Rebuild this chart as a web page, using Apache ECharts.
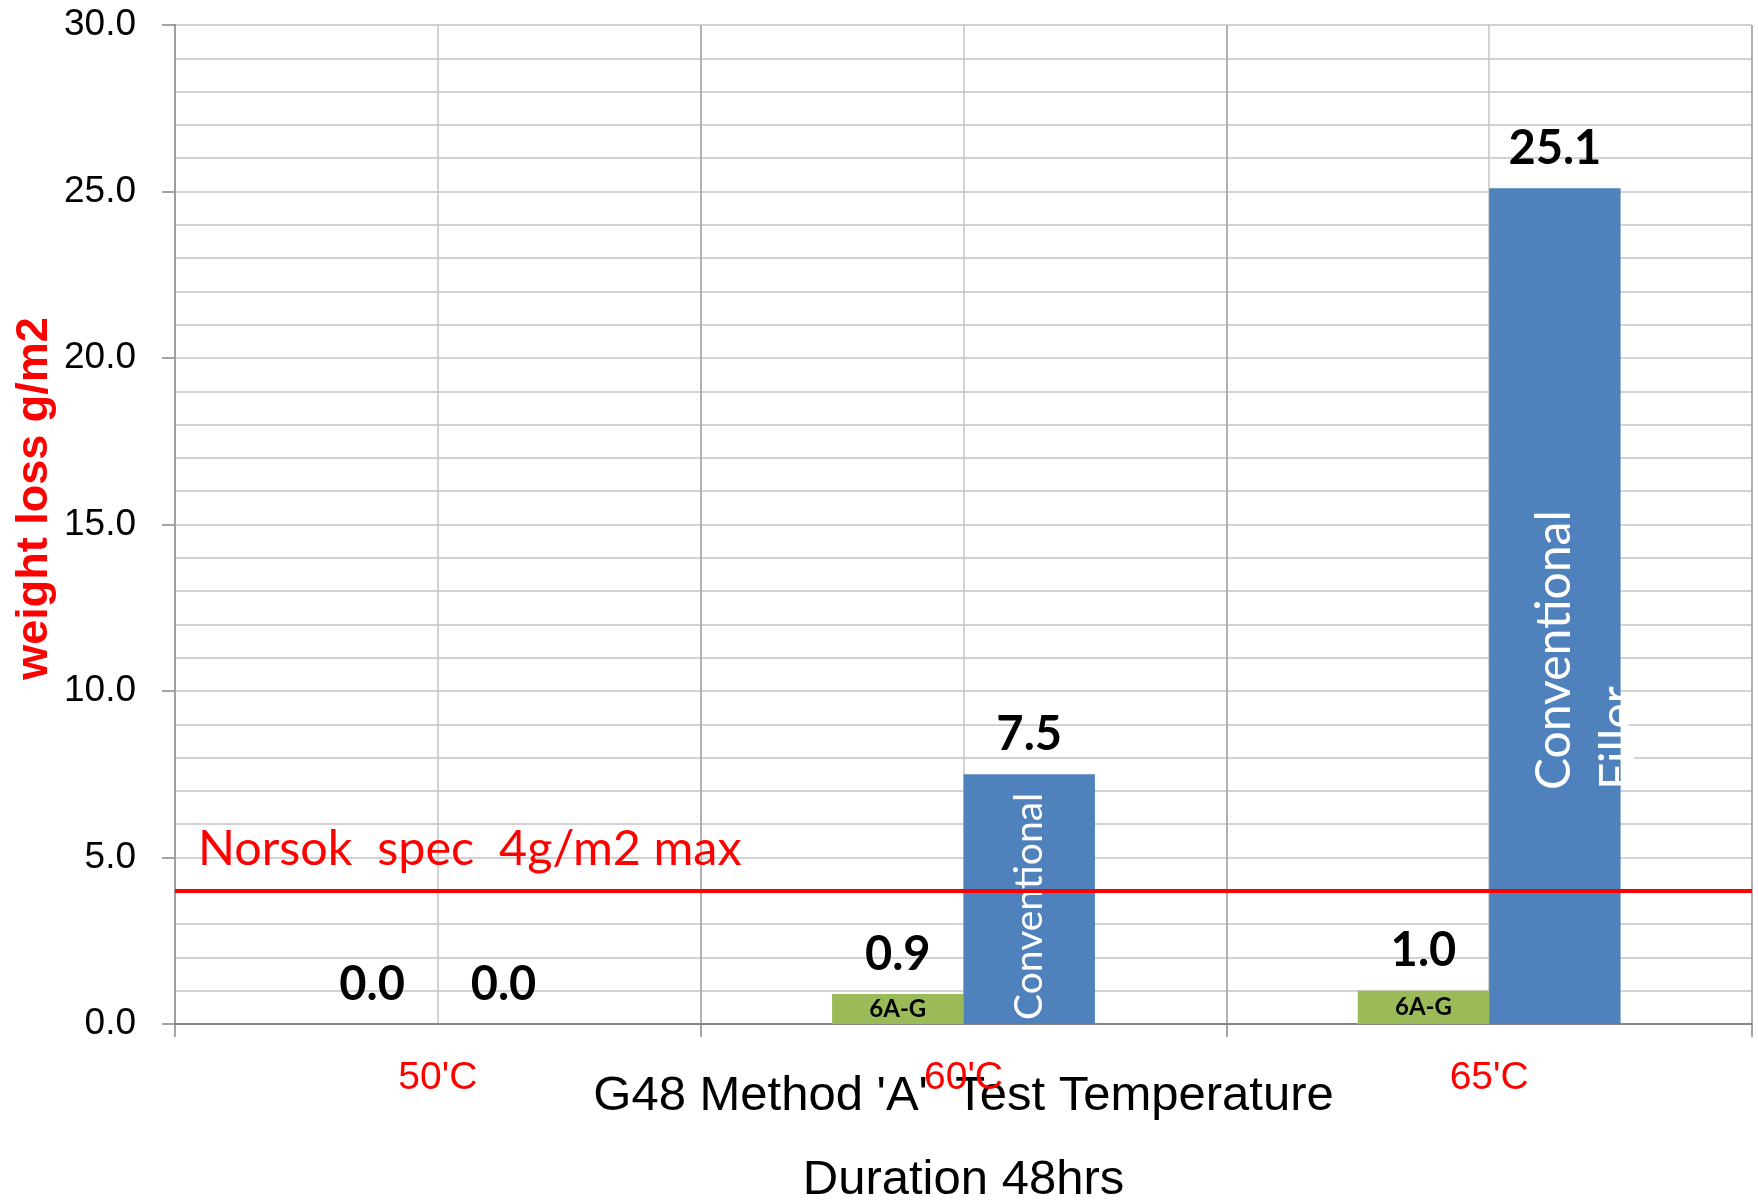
<!DOCTYPE html>
<html><head><meta charset="utf-8">
<script src="https://cdn.jsdelivr.net/npm/echarts@6/dist/echarts.min.js"></script>
<style>html,body{margin:0;padding:0;background:#fff}#c{width:1758px;height:1200px}</style>
</head><body><div id="c"></div>
<script>
const categories = ["50'C", "60'C", "65'C"];
const greenValues = [0.0, 0.9, 1.0];
const blueValues = [0.0, 7.5, 25.1];
const greenNames = ['', '6A-G', '6A-G'];
const blueNames = ['', 'Conventional', 'Conventional\nFiller'];
const yMin = 0, yMax = 30, yInterval = 5;
const specLimit = 4;
const specText = 'Norsok  spec  4g/m2 max';
const xTitle = "G48 Method 'A'  Test Temperature\nDuration 48hrs";
const yTitle = 'weight loss g/m2';

const GREEN = '#9bbb59', BLUE = '#4f81bd', GRID = '#c4c4c4', AXIS = '#868686';

const blueLabelStyles = [
  { show: false },
  { fontSize: 39, distance: 4 },
  { fontSize: 48, distance: 234, lineHeight: 64, offset: [0, 32] }
];

const valueLabel = {
  show: true, position: 'top', distance: 16,
  formatter: p => p.value.toFixed(1),
  fontFamily: 'Lato', fontWeight: 'bold', fontSize: 47, color: '#000'
};

const chart = echarts.init(document.getElementById('c'), null, { renderer: 'canvas' });
chart.setOption({
  animation: false,
  backgroundColor: '#fff',
  grid: { left: 175, right: 6, top: 25, bottom: 176, containLabel: false, outerBoundsMode: 'none' },
  xAxis: [
    {
      type: 'category', data: categories, position: 'bottom', z: 2,
      axisLine: { lineStyle: { color: AXIS, width: 2 } },
      axisTick: { show: true, length: 13, lineStyle: { color: AXIS, width: 1.5 } },
      axisLabel: { color: '#ff0000', fontFamily: 'Liberation Sans', fontSize: 39, margin: 35, interval: 0 },
      splitLine: { show: true, interval: 0, lineStyle: { color: '#a6a6a6', width: 1.5 } },
      name: xTitle, nameLocation: 'middle', nameGap: 30, nameMoveOverlap: false,
      nameTextStyle: { color: '#000', fontFamily: 'Liberation Sans', fontSize: 49, lineHeight: 84 }
    },
    {
      type: 'value', min: 0, max: 6, interval: 1, z: 0,
      axisLine: { show: false }, axisTick: { show: false }, axisLabel: { show: false },
      splitLine: { show: true, lineStyle: { color: GRID, width: 1.5 } }
    },
    { type: 'category', data: categories, show: false }
  ],
  yAxis: {
    type: 'value', min: yMin, max: yMax, interval: yInterval,
    axisLine: { show: true, lineStyle: { color: AXIS, width: 2 } },
    axisTick: { show: true, length: 13, lineStyle: { color: AXIS, width: 1.5 } },
    axisLabel: { formatter: v => v.toFixed(1), color: '#000', fontFamily: 'Liberation Sans', fontSize: 37, margin: 39 },
    splitLine: { lineStyle: { color: GRID, width: 1.5 } },
    minorTick: { show: false, splitNumber: 5 },
    minorSplitLine: { show: true, lineStyle: { color: GRID, width: 1.5 } },
    name: yTitle, nameLocation: 'middle', nameGap: 118, nameMoveOverlap: false,
    nameTextStyle: { color: '#ff0000', fontFamily: 'Liberation Sans', fontWeight: 'bold', fontSize: 45, padding: [0, 0, 0, 52] }
  },
  series: [
    {
      name: '6A-G', type: 'bar', xAxisIndex: 0, barWidth: '25%', barGap: 0,
      data: greenValues, itemStyle: { color: GREEN }, label: valueLabel,
      markLine: {
        silent: true, symbol: ['none', 'none'],
        data: [{ yAxis: specLimit }],
        lineStyle: { color: '#ff0000', width: 4, type: 'solid' },
        label: { show: true, position: 'insideStartTop', formatter: specText, color: '#ff0000',
                 fontFamily: 'Lato', fontSize: 48.5, distance: [23, 17] },
        emphasis: { disabled: true }
      }
    },
    {
      name: 'Conventional', type: 'bar', xAxisIndex: 0, barWidth: '25%', barGap: 0,
      data: blueValues, itemStyle: { color: BLUE }, label: valueLabel
    },
    {
      type: 'bar', xAxisIndex: 2, barWidth: '25%', barGap: 0, silent: true, z: 3,
      data: greenValues, itemStyle: { color: 'rgba(0,0,0,0)' },
      label: { show: true, position: 'inside', formatter: p => greenNames[p.dataIndex],
               fontFamily: 'Lato', fontWeight: 'bold', fontSize: 24, color: '#000' }
    },
    {
      type: 'bar', xAxisIndex: 2, barWidth: '25%', barGap: 0, silent: true, z: 3,
      data: blueValues.map((v, i) => ({ value: v, label: blueLabelStyles[i] })),
      itemStyle: { color: 'rgba(0,0,0,0)' },
      label: { show: true, position: 'insideBottom', rotate: 90, align: 'left', verticalAlign: 'middle',
               formatter: p => blueNames[p.dataIndex], fontFamily: 'Lato', color: '#fff' }
    }
  ]
});
</script>
</body></html>
